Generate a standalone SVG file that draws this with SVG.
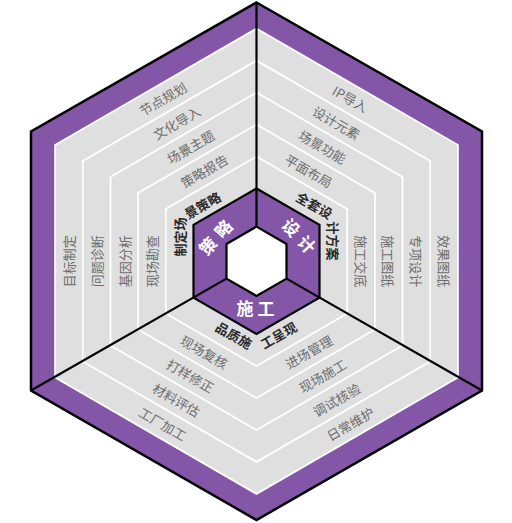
<svg xmlns="http://www.w3.org/2000/svg" width="512" height="523" viewBox="0 0 512 523">
<style>
.g{font-family:"Noto Sans CJK SC","Noto Sans",sans-serif;font-size:13px;fill:#6d6d6d;text-anchor:middle;dominant-baseline:central}
.b{font-family:"Noto Sans CJK SC","Noto Sans",sans-serif;font-size:13px;font-weight:700;fill:#2a2a2a;text-anchor:middle;dominant-baseline:central}
.w{font-family:"Noto Sans CJK SC","Noto Sans",sans-serif;font-size:17px;font-weight:700;fill:#ffffff;text-anchor:middle;dominant-baseline:central}
.band{fill:none;stroke:#ffffff;stroke-width:1.8}
.blk{stroke:#000;stroke-width:2.2;fill:none}
</style>
<rect width="512" height="523" fill="#ffffff"/>
<g id="frame">
<polygon points="256.5,2.5 482,131.5 482,390.5 256.5,520 31,390.5 31,131.5" fill="#8456a8" stroke="#000" stroke-width="2.5" stroke-linejoin="miter"/>
<polygon points="256.5,28.6 457.9,145 457.9,377.5 256.5,493.9 55.1,377.5 55.1,145" fill="#dfdfdf" class="band" style="fill:#dfdfdf"/>
<polygon class="band" points="256.5,60.6 430.2,161 430.2,361.5 256.5,461.9 82.8,361.5 82.8,161"/>
<polygon class="band" points="256.5,92.5 402.5,177 402.5,345.5 256.5,430 110.5,345.5 110.5,177"/>
<polygon class="band" points="256.5,124.5 374.9,192.9 374.9,329.6 256.5,398 138.1,329.6 138.1,192.9"/>
<polygon class="band" points="256.5,156.5 347.2,208.9 347.2,313.6 256.5,366 165.8,313.6 165.8,208.9"/>
</g>
<g id="hub">
<polygon points="256.5,188.5 319.5,224.9 319.5,297.6 256.5,334 193.5,297.6 193.5,224.9" fill="#8456a8" stroke="#000" stroke-width="2.2"/>
<polygon points="256.5,226.6 286.5,244 286.5,278.6 256.5,295.9 226.5,278.6 226.5,244" fill="#ffffff" stroke="#000" stroke-width="2.2"/>
</g>
<g id="connectors">
<line class="blk" x1="256.5" y1="2.5" x2="256.5" y2="226.6"/>
<line class="blk" x1="31" y1="390.5" x2="226.5" y2="278.6"/>
<line class="blk" x1="482" y1="390.5" x2="286.5" y2="278.6"/>
</g>
<g id="strategy">
<text class="w" transform="translate(214.5,236.5) rotate(-48)"><tspan x="-11.5">策</tspan><tspan x="11.5">略</tspan></text>
<text class="b" transform="translate(179.6,237) rotate(-90)">制定场</text>
<text class="b" transform="translate(202.5,205) rotate(-30)">景策略</text>
<text class="g" transform="translate(204.2,170.7) rotate(-30)">策略报告</text>
<text class="g" transform="translate(190.4,146.7) rotate(-30)">场景主题</text>
<text class="g" transform="translate(176.5,122.7) rotate(-30)">文化导入</text>
<text class="g" transform="translate(162.7,98.7) rotate(-30)">节点规划</text>
<text class="g" transform="translate(151.9,261.3) rotate(-90)">现场勘查</text>
<text class="g" transform="translate(124.3,261.3) rotate(-90)">基因分析</text>
<text class="g" transform="translate(96.5,261.3) rotate(-90)">问题诊断</text>
<text class="g" transform="translate(68.9,261.3) rotate(-90)">目标制定</text>
</g>
<g id="design">
<text class="w" transform="translate(300,235) rotate(47)"><tspan x="-11.5">设</tspan><tspan x="11.5">计</tspan></text>
<text class="b" transform="translate(314.5,205) rotate(30)">全套设</text>
<text class="b" transform="translate(333.4,241) rotate(90)">计方案</text>
<text class="g" transform="translate(308.8,170.7) rotate(30)">平面布局</text>
<text class="g" transform="translate(322.6,146.7) rotate(30)">场景功能</text>
<text class="g" transform="translate(336.5,122.7) rotate(30)">设计元素</text>
<text class="g" transform="translate(350.3,98.7) rotate(30)">IP导入</text>
<text class="g" transform="translate(361.1,261.3) rotate(90)">施工交底</text>
<text class="g" transform="translate(388.8,261.3) rotate(90)">施工图纸</text>
<text class="g" transform="translate(416.4,261.3) rotate(90)">专项设计</text>
<text class="g" transform="translate(444.1,261.3) rotate(90)">效果图纸</text>
</g>
<g id="construction">
<text class="w" transform="translate(255.5,307)"><tspan x="-10.5">施</tspan><tspan x="10.5">工</tspan></text>
<text class="b" transform="translate(234,335) rotate(30)">品质施</text>
<text class="b" transform="translate(278.5,335) rotate(-30)">工呈现</text>
<text class="g" transform="translate(204.2,351.8) rotate(30)">现场复核</text>
<text class="g" transform="translate(190.4,375.8) rotate(30)">打样修正</text>
<text class="g" transform="translate(176.5,399.8) rotate(30)">材料评估</text>
<text class="g" transform="translate(162.7,423.8) rotate(30)">工厂加工</text>
<text class="g" transform="translate(308.8,351.8) rotate(-30)">进场管理</text>
<text class="g" transform="translate(322.6,375.8) rotate(-30)">现场施工</text>
<text class="g" transform="translate(336.5,399.8) rotate(-30)">调试核验</text>
<text class="g" transform="translate(350.3,423.8) rotate(-30)">日常维护</text>
</g>
</svg>
